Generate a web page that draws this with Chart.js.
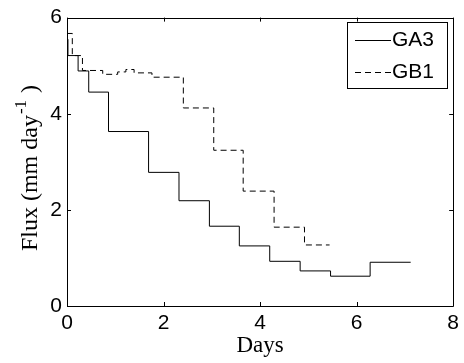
<!DOCTYPE html>
<html>
<head>
<meta charset="utf-8">
<script src="https://cdn.jsdelivr.net/npm/chart.js@4.4.0/dist/chart.umd.min.js"></script>
<style>
html,body{margin:0;padding:0;background:#fff;}
#wrap{width:464px;height:363px;}
</style>
</head>
<body>
<div id="wrap"><canvas id="c" width="464" height="363"></canvas></div>
<script>
const seriesNames = ["GA3", "GB1"];
const gaDays = [0, 0.02, 0.23, 0.45, 0.86, 1.69, 2.32, 2.95, 3.57, 4.20, 4.83, 5.46, 6.28, 7.12];
const gaFlux = [5.55, 5.21, 4.89, 4.45, 3.63, 2.78, 2.19, 1.66, 1.25, 0.93, 0.73, 0.62, 0.91, 0.91];
const gbDays = [0, 0.11, 0.32, 0.74, 1.05, 1.22, 1.39, 1.76, 2.41, 3.04, 3.65, 4.29, 4.92, 5.44];
const gbFlux = [5.67, 5.21, 4.90, 4.82, 4.87, 4.92, 4.85, 4.76, 4.12, 3.24, 2.39, 1.64, 1.27, 1.27];
const xTicks = [0, 2, 4, 6, 8];
const yTicks = [0, 2, 4, 6];
const xTitle = "Days";
const yTitleMain = "Flux (mm day";
const yTitleSup = "-1";
const yTitleEnd = " )";

const toPts = (xs, ys) => xs.map((x, i) => ({x: x, y: ys[i]}));
const SERIF = '"Liberation Serif", "Times New Roman", serif';
const SANS = '"Liberation Sans", Arial, sans-serif';

const boxPlugin = {
  id: 'box',
  afterDraw(chart) {
    const ctx = chart.ctx, a = chart.chartArea;
    const xs = chart.scales.x, ys = chart.scales.y;
    ctx.save();
    ctx.strokeStyle = '#000';
    ctx.lineWidth = 1;
    ctx.beginPath();
    ctx.rect(Math.round(a.left) + 0.5, Math.round(a.top) + 0.5, Math.round(a.right - a.left), Math.round(a.bottom - a.top));
    ctx.stroke();
    const L = 4;
    ctx.beginPath();
    xTicks.forEach(v => {
      const p = Math.round(xs.getPixelForValue(v)) + 0.5;
      ctx.moveTo(p, a.bottom); ctx.lineTo(p, a.bottom - L);
      ctx.moveTo(p, a.top); ctx.lineTo(p, a.top + L);
    });
    yTicks.forEach(v => {
      const p = Math.round(ys.getPixelForValue(v)) + 0.5;
      ctx.moveTo(a.left, p); ctx.lineTo(a.left + L, p);
      ctx.moveTo(a.right, p); ctx.lineTo(a.right - L, p);
    });
    ctx.stroke();

    // y-axis title with superscript
    ctx.save();
    ctx.translate(37, 168);
    ctx.rotate(-Math.PI / 2);
    ctx.fillStyle = '#000';
    ctx.textBaseline = 'alphabetic';
    ctx.textAlign = 'left';
    const mainFont = '24px ' + SERIF, supFont = '17px ' + SERIF;
    ctx.font = mainFont;
    const w1 = ctx.measureText(yTitleMain).width;
    const w3 = ctx.measureText(yTitleEnd).width;
    ctx.font = supFont;
    const w2 = ctx.measureText(yTitleSup).width;
    let x0 = -(w1 + w2 + w3 + 2) / 2;
    ctx.font = mainFont;
    ctx.fillText(yTitleMain, x0, 0);
    ctx.font = supFont;
    ctx.fillText(yTitleSup, x0 + w1 + 1, -11);
    ctx.font = mainFont;
    ctx.fillText(yTitleEnd, x0 + w1 + w2 + 2, 0);
    ctx.restore();

    // legend
    const bx = 347.5, by = 22.5, bw = 100, bh = 66;
    ctx.fillStyle = '#fff';
    ctx.fillRect(bx, by, bw, bh);
    ctx.strokeRect(bx, by, bw, bh);
    ctx.font = '21px ' + SANS;
    ctx.textBaseline = 'alphabetic';
    ctx.textAlign = 'left';
    ctx.fillStyle = '#000';
    const rows = [{y: 40.5, ty: 46, dash: []}, {y: 72.5, ty: 78, dash: [6, 4]}];
    rows.forEach((r, i) => {
      ctx.setLineDash(r.dash);
      ctx.beginPath();
      ctx.moveTo(355, r.y); ctx.lineTo(391, r.y);
      ctx.stroke();
      ctx.setLineDash([]);
      ctx.fillText(seriesNames[i], 392, r.ty);
    });
    ctx.restore();
  }
};

new Chart(document.getElementById('c'), {
  type: 'line',
  data: {
    datasets: [
      {label: seriesNames[0], data: toPts(gaDays, gaFlux), stepped: 'before', borderColor: '#000', borderWidth: 1, pointRadius: 0, fill: false},
      {label: seriesNames[1], data: toPts(gbDays, gbFlux), stepped: 'before', borderColor: '#000', borderWidth: 1, borderDash: [6, 4], pointRadius: 0, fill: false}
    ]
  },
  options: {
    responsive: false,
    animation: false,
    layout: {padding: {left: 0, right: 7, top: 15, bottom: 0}},
    plugins: {legend: {display: false}, tooltip: {enabled: false}},
    scales: {
      x: {
        type: 'linear', min: 0, max: 8,
        afterBuildTicks: s => { s.ticks = xTicks.map(v => ({value: v})); },
        afterFit: s => { s.height = 57; },
        grid: {display: false, drawTicks: false},
        border: {display: false},
        ticks: {color: '#000', padding: 5, font: {family: SANS, size: 21}, maxRotation: 0, autoSkip: false},
        title: {display: true, text: xTitle, color: '#000', font: {family: SERIF, size: 23}, padding: {top: 0, bottom: 3}}
      },
      y: {
        type: 'linear', min: 0, max: 6,
        afterBuildTicks: s => { s.ticks = yTicks.map(v => ({value: v})); },
        afterFit: s => { s.width = 67; },
        grid: {display: false, drawTicks: false},
        border: {display: false},
        ticks: {color: '#000', padding: 5, font: {family: SANS, size: 21}},
        title: {display: false}
      }
    }
  },
  plugins: [boxPlugin]
});
</script>
</body>
</html>
